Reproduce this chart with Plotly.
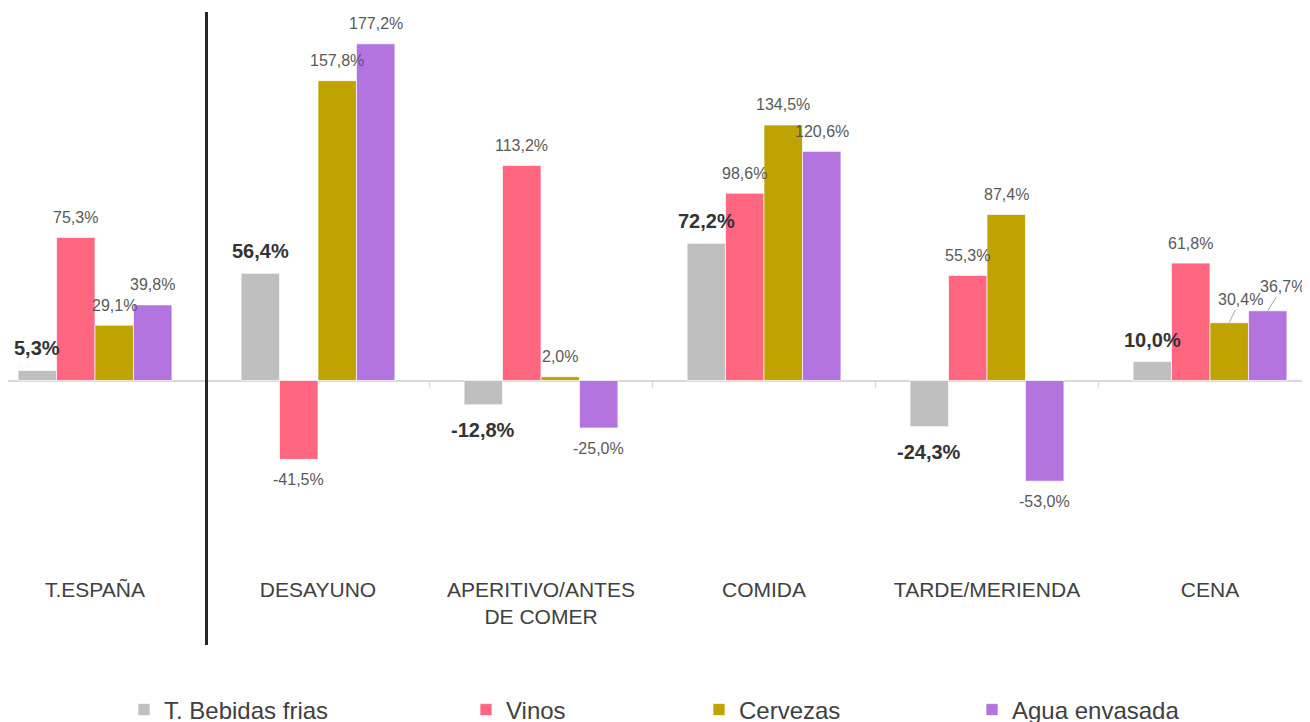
import plotly.graph_objects as go

categories = ["T.ESPAÑA", "DESAYUNO", "APERITIVO/ANTES<br>DE COMER", "COMIDA", "TARDE/MERIENDA", "CENA"]
series_names = ["T. Bebidas frias", "Vinos", "Cervezas", "Agua envasada"]
bebidas_frias = [5.3, 56.4, -12.8, 72.2, -24.3, 10.0]
vinos = [75.3, -41.5, 113.2, 98.6, 55.3, 61.8]
cervezas = [29.1, 157.8, 2.0, 134.5, 87.4, 30.4]
agua = [39.8, 177.2, -25.0, 120.6, -53.0, 36.7]
colors = ["#BFBFBF", "#FF6680", "#BFA300", "#B474E0"]

all_series = [bebidas_frias, vinos, cervezas, agua]
FONT = "Arial, Liberation Sans, sans-serif"

W, H = 1310, 722
OFF = 8  # page body margin offset (window px = figure px + OFF)
PLOT_BOTTOM = 572 - OFF
ZERO_PX = 380.5 - OFF
PX_PER_UNIT = 1.9
y_top = ZERO_PX / PX_PER_UNIT
y_bot = -(PLOT_BOTTOM - ZERO_PX) / PX_PER_UNIT

BARGAP = 0.31
n = len(all_series)
bw = (1 - BARGAP) / n
CAT_PX = 223
x_left = -0.5 + (16.5 + OFF) / CAT_PX

def fmt(v):
    return f"{v:.1f}".replace(".", ",") + "%"

x = list(range(len(categories)))
fig = go.Figure()
legend_ids = ["legend", "legend2", "legend3", "legend4"]
for s, (name, vals, col) in enumerate(zip(series_names, all_series, colors)):
    fig.add_trace(go.Bar(
        x=x, y=vals, name=name, marker_color=col,
        marker_line=dict(color="rgba(255,255,255,0.7)", width=1),
        legend=legend_ids[s], hoverinfo="skip",
    ))

annotations = []
leader = {(5, 2): (11, -23), (5, 3): (15, -24)}
for s, vals in enumerate(all_series):
    for i, v in enumerate(vals):
        xc = i + (s - (n - 1) / 2) * bw
        bold = s == 0
        if (i, s) in leader:
            ax, ay = leader[(i, s)]
            annotations.append(dict(
                x=xc, y=v, xref="x", yref="y", text=fmt(v), showarrow=True,
                arrowhead=0, arrowwidth=1, arrowcolor="#A6A6A6", ax=ax, ay=ay,
                standoff=0, font=dict(family=FONT, size=16, color="#595959"),
            ))
            continue
        shift = (22 if bold else 20) * (1 if v >= 0 else -1)
        if bold and v < 0:
            shift = -25
        annotations.append(dict(
            x=xc, y=v, xref="x", yref="y", text=f"<b>{fmt(v)}</b>" if bold else fmt(v),
            showarrow=False, yshift=shift, yanchor="middle",
            font=dict(family=FONT, size=20 if bold else 16, color="#333333" if bold else "#595959"),
        ))

shapes = []
shapes.append(dict(type="line", xref="x", yref="paper", x0=0.5, x1=0.5,
                   y0=(PLOT_BOTTOM - (12 - OFF)) / PLOT_BOTTOM,
                   y1=(PLOT_BOTTOM - (645 - OFF)) / PLOT_BOTTOM,
                   line=dict(color="#262626", width=3)))
for b in range(len(categories) - 1):
    shapes.append(dict(type="line", xref="x", yref="y", ysizemode="pixel", yanchor=0,
                       x0=b + 0.5, x1=b + 0.5, y0=0, y1=-7,
                       line=dict(color="#D9D9D9", width=1.5), layer="below"))

legend_x = [116, 458, 691, 964]
legend_defs = {}
for k, lid in enumerate(legend_ids):
    legend_defs[lid] = dict(
        orientation="h", xref="container", yref="container",
        x=legend_x[k] / W, y=1 - (710 - OFF) / H, xanchor="left", yanchor="middle",
        font=dict(family=FONT, size=24, color="#404040"),
        bgcolor="rgba(0,0,0,0)", itemclick=False, itemdoubleclick=False,
    )

fig.update_layout(
    width=W, height=H,
    margin=dict(l=0, r=0, t=0, b=H - PLOT_BOTTOM),
    paper_bgcolor="white", plot_bgcolor="white",
    barmode="group", bargap=BARGAP, bargroupgap=0,
    showlegend=True,
    xaxis=dict(range=[x_left, x_left + W / CAT_PX],
               tickvals=x, ticktext=categories, showgrid=False, zeroline=False,
               showline=False, ticks="", ticklabelstandoff=3,
               tickfont=dict(family=FONT, size=21, color="#404040")),
    yaxis=dict(range=[y_bot, y_top], showgrid=False, showticklabels=False,
               zeroline=True, zerolinecolor="#D9D9D9", zerolinewidth=2, ticks=""),
    annotations=annotations,
    shapes=shapes,
    **legend_defs,
)

fig.write_html("out.html")
